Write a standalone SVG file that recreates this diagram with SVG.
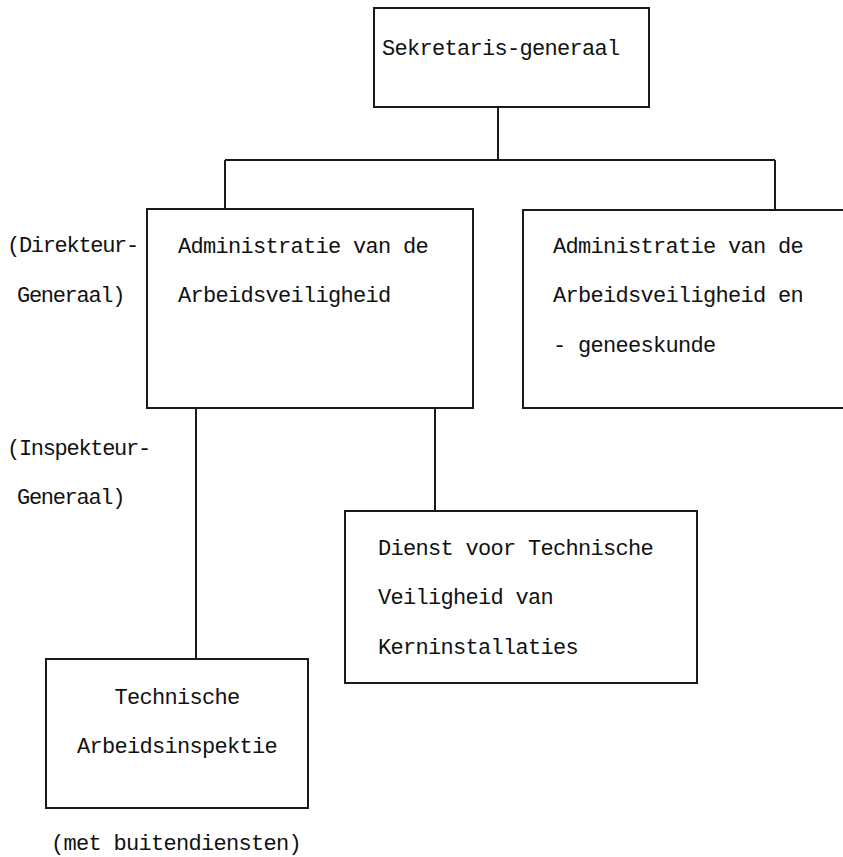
<svg xmlns="http://www.w3.org/2000/svg" width="843" height="857" viewBox="0 0 843 857">
<style>
.box{fill:none;stroke:#1a1a1a;stroke-width:2}
.ln{fill:none;stroke:#1a1a1a;stroke-width:2}
text{font-family:"Liberation Mono","DejaVu Sans Mono",monospace;font-size:22px;letter-spacing:-0.7px;fill:#111}
.lab{letter-spacing:-1.3px}
.c{text-anchor:middle}
</style>
<rect width="843" height="857" fill="#fff"/>
<g id="connectors">
<path class="ln" d="M498,107 V160 M225,160 H775 M225,160 V209 M775,160 V210"/>
<path class="ln" d="M196,408 V659 M435,408 V511"/>
</g>
<g id="sekretaris">
<rect class="box" x="374" y="8" width="275" height="99"/>
<text x="382" y="55">Sekretaris-generaal</text>
</g>
<g id="admin-arbeid">
<rect class="box" x="147" y="209" width="326" height="199"/>
<text x="178" y="253">Administratie van de</text>
<text x="178" y="302">Arbeidsveiligheid</text>
</g>
<g id="label-direkteur">
<text class="lab" x="7" y="252">(Direkteur-</text>
<text class="lab" x="17" y="302">Generaal)</text>
</g>
<g id="admin-arbeid-genees">
<path class="box" d="M843,210 H523 V408 H843"/>
<text x="553" y="253">Administratie van de</text>
<text x="553" y="302">Arbeidsveiligheid en</text>
<text x="553" y="352">- geneeskunde</text>
</g>
<g id="label-inspekteur">
<text class="lab" x="7" y="455">(Inspekteur-</text>
<text class="lab" x="17" y="504">Generaal)</text>
</g>
<g id="dienst">
<rect class="box" x="345" y="511" width="352" height="172"/>
<text x="378" y="555">Dienst voor Technische</text>
<text x="378" y="604">Veiligheid van</text>
<text x="378" y="654">Kerninstallaties</text>
</g>
<g id="technische">
<rect class="box" x="46" y="659" width="262" height="149"/>
<text class="c" x="177" y="704">Technische</text>
<text class="c" x="177" y="753">Arbeidsinspektie</text>
</g>
<g id="label-buiten">
<text class="c" x="176" y="850">(met buitendiensten)</text>
</g>
</svg>
